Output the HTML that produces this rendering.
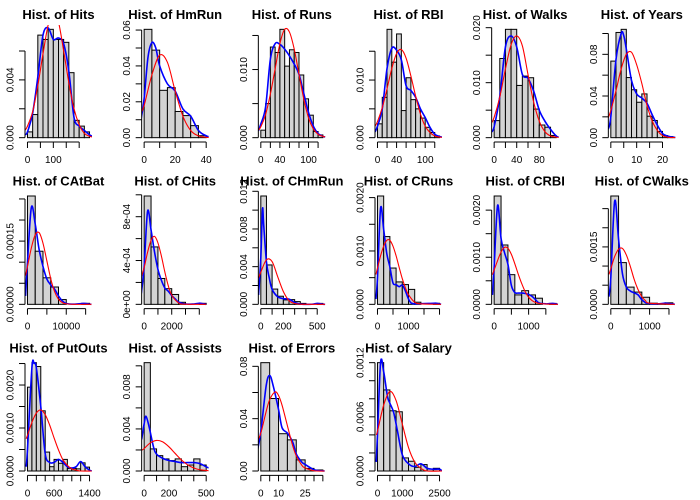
<!DOCTYPE html>
<html><head><meta charset="utf-8">
<style>
html,body{margin:0;padding:0;background:#fff;}
svg{display:block;font-family:"Liberation Sans",Arial,sans-serif;}
</style></head>
<body>
<svg id="chart" width="700" height="500" viewBox="0 0 700 500" xmlns="http://www.w3.org/2000/svg"></svg>
<script>
const titles=["Hist. of Hits","Hist. of HmRun","Hist. of Runs","Hist. of RBI","Hist. of Walks","Hist. of Years","Hist. of CAtBat","Hist. of CHits","Hist. of CHmRun","Hist. of CRuns","Hist. of CRBI","Hist. of CWalks","Hist. of PutOuts","Hist. of Assists","Hist. of Errors","Hist. of Salary"];
const binStarts=[0,0,0,0,0,0,0,0,0,0,0,0,0,0,0,0];
const binWidths=[20,5,10,10,10,2,2000,500,50,200,200,200,100,50,5,250];
const densities=[
[0.0004,0.0016,0.0071,0.0068,0.0075,0.0068,0.0068,0.0066,0.0045,0.0012,0.0008,0.0004],
[0.0604,0.0488,0.0264,0.0279,0.0146,0.0123,0.0067,0.0011],
[0.0011,0.005,0.0133,0.0125,0.0159,0.0105,0.0129,0.0125,0.0092,0.0057,0.0033,0.0009,0.0004],
[0.0024,0.0070,0.0188,0.0131,0.018,0.0047,0.0104,0.0066,0.005,0.0034,0.0018,0.0009,0.0003],
[0.0031,0.0144,0.0197,0.0197,0.0095,0.0112,0.0109,0.0052,0.0023,0.0019,0.0004],
[0.0735,0.101,0.104,0.0577,0.046,0.034,0.042,0.0206,0.0165,0.006,0.002,0.001],
[0.000257,0.000126,0.0000629,0.0000411,0.0000113,0,0,0.0000024],
[0.000989,0.000524,0.000236,0.000143,0.00009,0.0000186,0,0,0.0000093],
[0.0115,0.00418,0.00162,0.00086,0.00047,0.0005,0.00029,0.0001,0,0,0.0001],
[0.00203,0.00127,0.00068,0.00042,0.00037,0.00028,0.00004,0,0,0.00002],
[0.0023,0.00126,0.00063,0.0002,0.00029,0.0002,0.00013,0,0.00002],
[0.00283,0.00109,0.00045,0.00032,0.000185,0.00003,0.00001,0.00004],
[0.00195,0.00252,0.00243,0.0014,0.00044,0.0001,0.00027,0.00018,0.00027,0.00006,0.00006,0.00005,0.00019,0.00009],
[0.0103,0.0021,0.00146,0.00115,0.00099,0.00115,0.00041,0.00057,0.00115,0.00057],
[0.0828,0.0554,0.0285,0.0238,0.0085,0.002,0.0008],
[0.00120,0.000898,0.000667,0.000656,0.000145,0.000108,0.000041,0.000071,0.000022,0.00003]
];
const blueX=[
[-10,0,20,40,60,80,100,120,140,160,180,200,220,240,250],
[-2,0,2.5,5,7.5,10,15,20,25,30,35,40,42],
[-5,0,10,20,30,40,50,60,70,80,90,100,110,120,130,135],
[-5,0,10,20,30,40,50,60,70,80,90,100,110,120,130,135],
[-5,0,10,20,30,40,50,60,70,80,90,100,110,115],
[-1,0,2,4,5,6,8,10,12,14,16,18,20,22,24,25],
[-500,0,1000,2000,3000,4000,5000,6000,7000,8000,9000,10000,12000,14000,15000,16000,16500],
[-200,0,250,500,750,1000,1250,1500,1750,2000,2250,2500,3000,3500,4000,4250,4500],
[-20,0,15,25,50,75,100,150,200,250,300,350,450,500,550,570],
[-50,0,100,200,300,400,500,600,700,800,900,1000,1100,1300,1800,1900,2050],
[-50,0,100,200,300,400,500,600,700,800,900,1000,1100,1200,1300,1500,1700,1850],
[-50,0,100,200,300,400,500,600,700,800,900,1000,1200,1400,1500,1650],
[-30,0,100,150,200,300,400,500,600,700,800,900,1000,1100,1200,1300,1400,1450],
[-20,0,15,40,75,100,150,200,250,300,350,400,450,500,520],
[-2,0,3,5,7,10,12,15,18,20,23,25,30,33,36],
[-50,0,125,250,400,500,650,800,1000,1250,1500,1750,2000,2250,2500,2600]
];
const blueY=[
[0.0002,0.0004,0.0017,0.0042,0.0071,0.0076,0.0068,0.0069,0.0065,0.0046,0.0014,0.0008,0.0005,0.0002,0.0001],
[0.010,0.022,0.045,0.053,0.050,0.040,0.030,0.026,0.016,0.012,0.004,0.001,0.0005],
[0.001,0.002,0.0045,0.0115,0.0138,0.0137,0.013,0.012,0.0108,0.0093,0.0065,0.0037,0.0017,0.0006,0.0002,0.0001],
[0.001,0.002,0.005,0.012,0.0155,0.0152,0.0135,0.009,0.0082,0.007,0.005,0.0035,0.0018,0.0006,0.0002,0.0001],
[0.001,0.002,0.0075,0.0165,0.0185,0.0165,0.0115,0.0108,0.0085,0.005,0.003,0.0015,0.0003,0.0001],
[0.008,0.02,0.075,0.10,0.098,0.085,0.055,0.042,0.038,0.033,0.022,0.012,0.004,0.0015,0.0005,0.0002],
[0.00002,0.0001,0.00023,0.00019,0.00013,0.00009,0.00006,0.000046,0.000036,0.00002,0.000008,0.000002,0.0000005,0.000002,0.000002,0.0000005,0],
[0.0001,0.00035,0.00085,0.00068,0.00048,0.00032,0.00022,0.00015,0.00012,0.00008,0.00005,0.00002,0.000003,0.000002,0.00001,0.000006,0],
[0.001,0.005,0.0101,0.0085,0.0045,0.0028,0.0016,0.0008,0.0006,0.00055,0.0002,0.00003,0.00001,0.0001,0.00002,0],
[0.0001,0.0005,0.0018,0.0014,0.00095,0.0007,0.0004,0.00037,0.00033,0.00036,0.00025,0.0001,0.00002,0.00001,0.00002,0.00002,0],
[0.0002,0.0008,0.0021,0.0014,0.0011,0.00085,0.0004,0.00025,0.00024,0.00024,0.00023,0.00021,0.00017,0.0001,0.00003,0.00001,0.00002,0],
[0.0002,0.0007,0.0027,0.0017,0.0008,0.00045,0.00035,0.0003,0.00025,0.00012,0.00004,0.00002,0.00001,0.00003,0.00002,0],
[0.0001,0.0005,0.0024,0.0025,0.0024,0.0015,0.0004,0.0002,0.0002,0.00027,0.0002,0.0001,0.00007,0.0001,0.00022,0.0001,0.00002,0],
[0.003,0.0045,0.0052,0.0042,0.0023,0.0016,0.0012,0.0010,0.0009,0.0008,0.0008,0.0008,0.0007,0.0004,0.0003],
[0.015,0.03,0.065,0.073,0.065,0.047,0.033,0.029,0.022,0.013,0.007,0.005,0.001,0.0003,0],
[0.0001,0.0004,0.0012,0.0011,0.00083,0.00075,0.00065,0.00045,0.00018,0.00008,0.00005,0.00008,0.00003,0.00002,0.00002,0]
];
const redX=[
[-10,0,20,40,60,80,100,120,140,160,180,200,220,240,250],
[-2,0,5,10,15,20,25,30,35,40,42],
[-5,0,10,20,30,40,50,60,70,80,90,100,110,120,130,135],
[-5,0,10,20,30,40,50,60,70,80,90,100,110,120,130,135],
[-5,0,10,20,30,40,50,60,70,80,90,100,110,115],
[-1,0,2,4,6,8,10,12,14,16,18,20,22,24,25],
[-500,0,1000,2000,3000,4000,5000,6000,7000,8000,9000,10000,12000,16500],
[-200,0,250,500,750,1000,1250,1500,1750,2000,2500,3000,4500],
[-20,0,50,100,150,200,250,300,350,400,570],
[-50,0,100,200,300,400,500,600,700,800,900,1000,1200,1400,2050],
[-50,0,100,200,300,400,500,600,700,800,900,1000,1100,1200,1400,1850],
[-50,0,100,200,300,400,500,600,700,800,900,1000,1650],
[-30,0,100,200,300,400,500,600,700,800,900,1000,1100,1200,1450],
[-20,0,50,100,150,200,250,300,350,400,450,500,520],
[-2,0,3,5,8,10,12,15,18,20,23,25,30,36],
[-50,0,250,500,750,1000,1250,1500,1750,2000,2600]
];
const redY=[
[0.0005,0.0008,0.0018,0.0036,0.0058,0.0078,0.0087,0.0080,0.0060,0.0038,0.0020,0.0009,0.0003,0.0001,0.00005],
[0.014,0.018,0.035,0.046,0.042,0.026,0.012,0.004,0.001,0.0002,0.0001],
[0.0011,0.0016,0.0034,0.0064,0.0101,0.0138,0.0159,0.0155,0.0130,0.0093,0.0057,0.0029,0.0013,0.0005,0.0002,0.0001],
[0.002,0.0028,0.0052,0.0085,0.0120,0.0146,0.0153,0.0138,0.0107,0.0072,0.0041,0.0020,0.0009,0.0003,0.0001,0.00005],
[0.0026,0.0037,0.0074,0.0125,0.0169,0.0185,0.0167,0.0115,0.0065,0.0030,0.0011,0.0003,0.0001,0.00005],
[0.019,0.026,0.045,0.066,0.080,0.082,0.070,0.052,0.031,0.016,0.007,0.002,0.0005,0.0001,0.0001],
[0.000068,0.0000898,0.000134,0.000165,0.000170,0.000145,0.000103,0.0000608,0.000030,0.000012,0.0000041,0.0000011,0,0],
[0.00025,0.000335,0.000476,0.000584,0.000620,0.000561,0.000441,0.000296,0.000170,0.000084,0.000013,0.000001,0],
[0.0028,0.00341,0.00473,0.00454,0.00292,0.00135,0.00040,0.00009,0.000014,0,0],
[0.00056,0.00068,0.00091,0.00109,0.00120,0.00120,0.00109,0.00091,0.00069,0.00048,0.00031,0.00018,0.00004,0.00001,0],
[0.00063,0.00073,0.00093,0.00111,0.00121,0.00119,0.00106,0.00086,0.00064,0.00044,0.00027,0.00015,0.00008,0.00004,0.00001,0],
[0.00078,0.00093,0.00125,0.00144,0.00146,0.00129,0.00100,0.00066,0.00039,0.00020,0.00009,0.00003,0],
[0.00075,0.00083,0.00113,0.00135,0.00142,0.00131,0.00107,0.00077,0.00049,0.00026,0.00013,0.00005,0.00002,0,0],
[0.00196,0.00214,0.00268,0.00291,0.00277,0.00230,0.00167,0.00106,0.00059,0.00029,0.00012,0.00005,0.00003],
[0.0228,0.0289,0.0454,0.0545,0.0604,0.0577,0.0502,0.0346,0.0192,0.0116,0.0046,0.0024,0.0002,0],
[0.0004,0.00044,0.00073,0.00088,0.00078,0.00052,0.00026,0.0001,0.00003,0,0]
];
const xTickVals=[
[0,50,100,150,200],[0,10,20,30,40],[0,20,40,60,80,100,120],[0,20,40,60,80,100,120],
[0,20,40,60,80,100],[0,5,10,15,20],[0,5000,10000,15000],[0,1000,2000,3000,4000],
[0,100,200,300,400,500],[0,500,1000,1500,2000],[0,500,1000,1500],[0,500,1000,1500],
[0,200,400,600,800,1000,1200,1400],[0,100,200,300,400,500],[0,5,10,15,20,25,30,35],[0,500,1000,1500,2000,2500]
];
const xTickLabels=[
['0','','100','',''],['0','','20','','40'],['0','','40','','','100',''],['0','','40','','','100',''],
['0','','40','','80',''],['0','','10','','20'],['0','','10000',''],['0','','2000','',''],
['0','','200','','','500'],['0','','1000','',''],['0','','1000',''],['0','','1000',''],
['0','','','600','','','','1400'],['0','','200','','','500'],['0','','10','','','25','',''],['0','','1000','','','2500']
];
const yTickVals=[
[0,0.002,0.004,0.006],[0,0.01,0.02,0.03,0.04,0.05,0.06],[0,0.005,0.01,0.015],[0,0.005,0.01,0.015],
[0,0.005,0.01,0.015,0.02],[0,0.02,0.04,0.06,0.08,0.10],[0,0.00005,0.0001,0.00015,0.0002,0.00025],[0,0.0002,0.0004,0.0006,0.0008,0.001],
[0,0.002,0.004,0.006,0.008,0.01,0.012],[0,0.0005,0.001,0.0015,0.002],[0,0.0005,0.001,0.0015,0.002],[0,0.0005,0.001,0.0015,0.002,0.0025],
[0,0.0005,0.001,0.0015,0.002,0.0025],[0,0.002,0.004,0.006,0.008,0.01],[0,0.02,0.04,0.06,0.08],[0,0.0002,0.0004,0.0006,0.0008,0.001,0.0012]
];
const yTickLabels=[
['0.000','','0.004',''],['0.00','','0.02','','0.04','','0.06'],['0.000','','0.010',''],['0.000','','0.010',''],
['0.000','','0.010','','0.020'],['0.00','','0.04','','0.08',''],['0.00000','','','0.00015','',''],['0e+00','','4e-04','','8e-04',''],
['0.000','','0.004','','0.008','','0.012'],['0.0000','','0.0010','','0.0020'],['0.0000','','0.0010','','0.0020'],['0.0000','','','0.0015','',''],
['0.0000','','0.0010','','0.0020',''],['0.000','','0.004','','0.008',''],['0.00','','0.04','','0.08'],['0.0000','','','0.0006','','','0.0012']
];

const NS='http://www.w3.org/2000/svg';
const svg=document.getElementById('chart');
function mk(tag,attrs,parent){const e=document.createElementNS(NS,tag);for(const k in attrs)e.setAttribute(k,attrs[k]);(parent||svg).appendChild(e);return e;}
function smoothPath(pts){
  let d='M'+pts[0][0].toFixed(2)+','+pts[0][1].toFixed(2);
  for(let i=0;i<pts.length-1;i++){
    const p0=pts[i-1]||pts[i],p1=pts[i],p2=pts[i+1],p3=pts[i+2]||p2;
    const c1x=p1[0]+(p2[0]-p0[0])/6,c1y=p1[1]+(p2[1]-p0[1])/6;
    const c2x=p2[0]-(p3[0]-p1[0])/6,c2y=p2[1]-(p3[1]-p1[1])/6;
    d+=' C'+c1x.toFixed(2)+','+c1y.toFixed(2)+' '+c2x.toFixed(2)+','+c2y.toFixed(2)+' '+p2[0].toFixed(2)+','+p2[1].toFixed(2);
  }
  return d;
}
titles.forEach((title,i)=>{
  const col=i%6,row=Math.floor(i/6);
  const ox=col*116.667,oy=row*166.667;
  const L=ox+25,R=ox+92,T=oy+25,B=oy+142;
  const dens=densities[i],w=binWidths[i],s=binStarts[i];
  const lo=s,hi=s+w*dens.length;
  const xmin=lo-0.04*(hi-lo),xmax=hi+0.04*(hi-lo);
  const m=Math.max(...dens);
  const ymin=-0.04*m,ymax=1.04*m;
  const xs=v=>L+(v-xmin)/(xmax-xmin)*(R-L);
  const ys=v=>B-(v-ymin)/(ymax-ymin)*(B-T);
  const g=mk('g',{});
  
  
  const cp=mk('clipPath',{id:'clip'+i},g);
  mk('rect',{x:L,y:T,width:R-L,height:B-T},cp);
  const t=mk('text',{x:(L+R)/2,y:oy+19,'text-anchor':'middle','font-size':'13','font-weight':'bold',fill:'#000'},g);
  t.textContent=title;
  
  
  dens.forEach((d,j)=>{
    const x0=xs(s+j*w),x1=xs(s+(j+1)*w);
    const r=mk('rect',{x:x0,y:ys(d),width:x1-x0,height:Math.max(0,ys(0)-ys(d)),fill:'#d3d3d3',stroke:'#000','stroke-width':'1'},g);
    
    
  });
  const bp=blueX[i].map((x,k)=>[xs(x),ys(blueY[i][k])]);
  const bl=mk('path',{d:smoothPath(bp),fill:'none',stroke:'#0000ff','stroke-width':'1.6','clip-path':'url(#clip'+i+')'},g);
  
  
  const rp=redX[i].map((x,k)=>[xs(x),ys(redY[i][k])]);
  const rl=mk('path',{d:smoothPath(rp),fill:'none',stroke:'#ff0000','stroke-width':'1.1','clip-path':'url(#clip'+i+')'},g);
  
  
  // x axis
  const xt=xTickVals[i];
  const xa=mk('g',{},g);
  
  
  mk('line',{x1:xs(xt[0]),x2:xs(xt[xt.length-1]),y1:B,y2:B,stroke:'#000','stroke-width':'1'},xa);
  xt.forEach((v,k)=>{
    mk('line',{x1:xs(v),x2:xs(v),y1:B,y2:B+6,stroke:'#000','stroke-width':'1'},xa);
    if(xTickLabels[i][k]){const tl=mk('text',{x:xs(v),y:B+21,'text-anchor':'middle','font-size':'10',fill:'#000'},xa);tl.textContent=xTickLabels[i][k];}
  });
  // y axis
  const yt=yTickVals[i];
  const ya=mk('g',{},g);
  
  
  mk('line',{x1:L,x2:L,y1:ys(yt[0]),y2:ys(yt[yt.length-1]),stroke:'#000','stroke-width':'1'},ya);
  yt.forEach((v,k)=>{
    mk('line',{x1:L,x2:L-6,y1:ys(v),y2:ys(v),stroke:'#000','stroke-width':'1'},ya);
    if(yTickLabels[i][k]){const tl=mk('text',{x:0,y:0,transform:'translate('+(ox+13.5)+','+ys(v)+') rotate(-90)','text-anchor':'middle','font-size':'10',fill:'#000'},ya);tl.textContent=yTickLabels[i][k];}
  });
});
</script>
</body></html>
